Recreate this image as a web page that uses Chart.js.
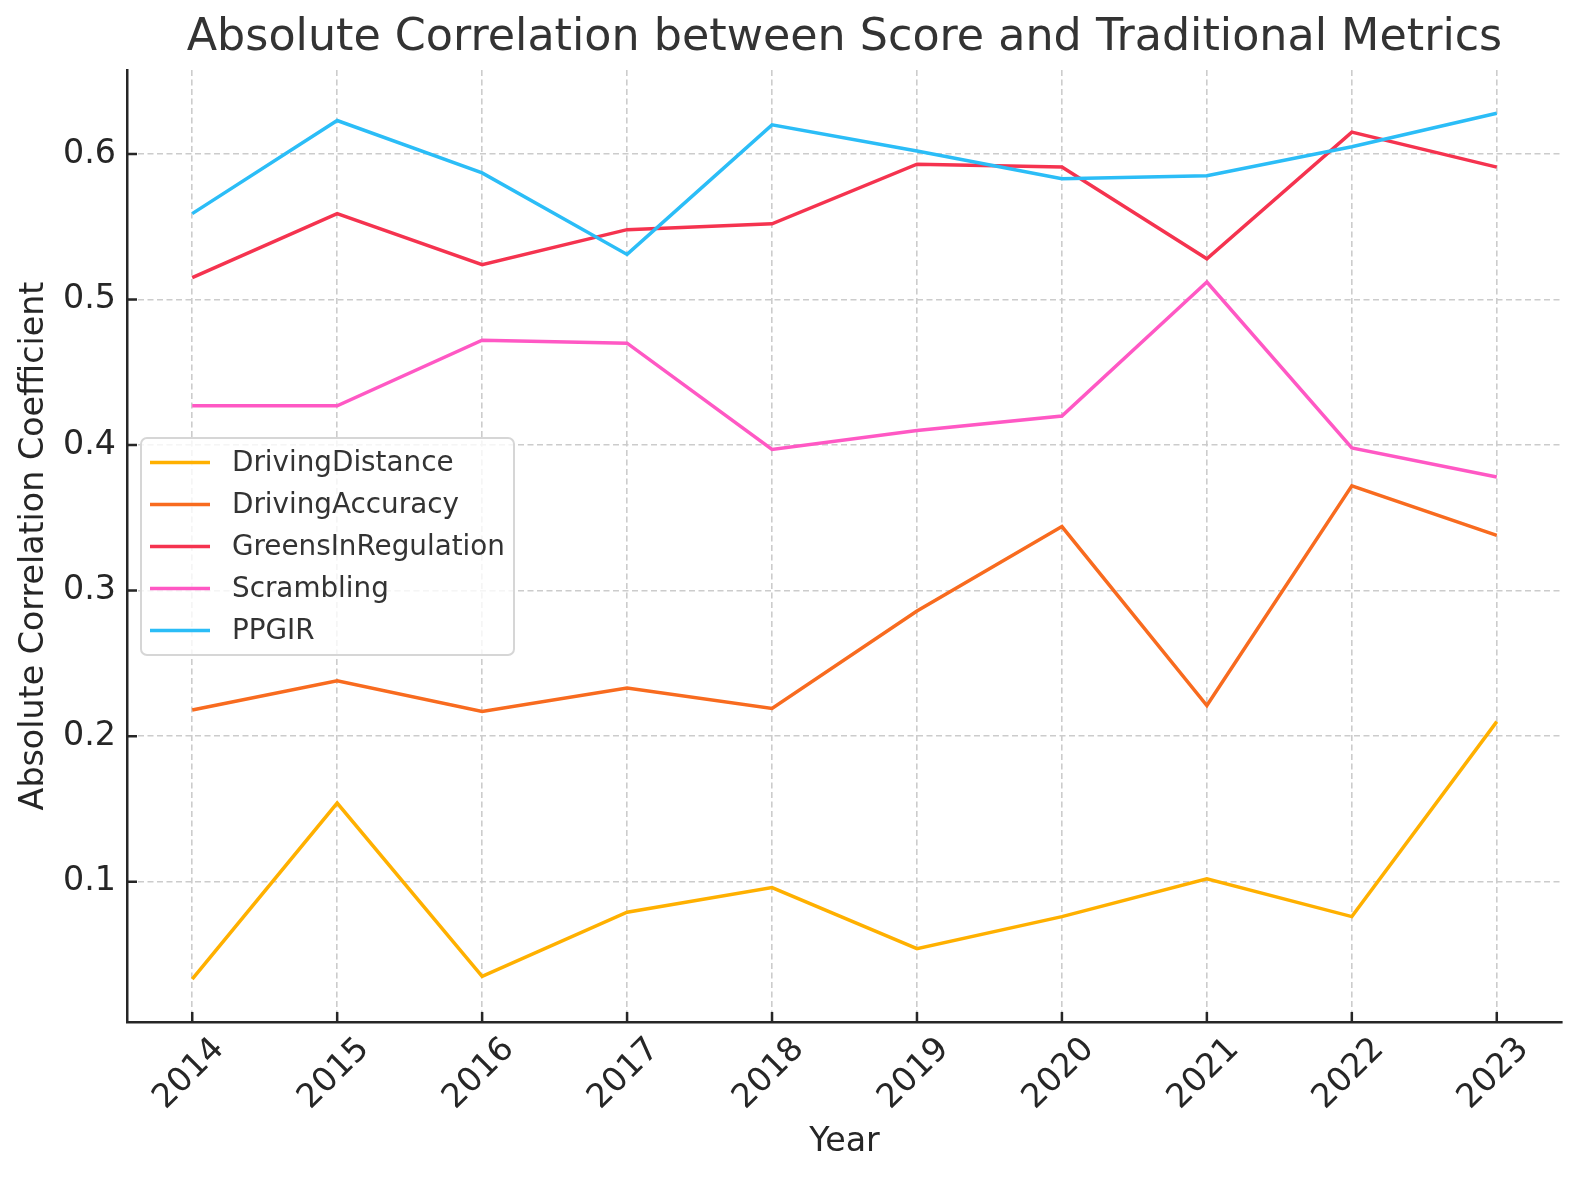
<!DOCTYPE html>
<html>
<head>
<meta charset="utf-8">
<script src="https://cdn.jsdelivr.net/npm/chart.js@4.4.1/dist/chart.umd.min.js"></script>
<style>
  html, body { margin: 0; padding: 0; background: #fff; }
</style>
</head>
<body>
<canvas id="myChart" width="1580" height="1180"></canvas>
<script>
const years = [2014, 2015, 2016, 2017, 2018, 2019, 2020, 2021, 2022, 2023];
const seriesNames = ['DrivingDistance', 'DrivingAccuracy', 'GreensInRegulation', 'Scrambling', 'PPGIR'];
const seriesColors = ['#ffb000', '#f86b1f', '#f5334f', '#ff58c4', '#2bbdf7'];

const drivingDistance    = [0.033, 0.154, 0.035, 0.079, 0.096, 0.054, 0.076, 0.102, 0.076, 0.210];
const drivingAccuracy    = [0.218, 0.238, 0.217, 0.233, 0.219, 0.286, 0.344, 0.221, 0.372, 0.338];
const greensInRegulation = [0.515, 0.559, 0.524, 0.548, 0.552, 0.593, 0.591, 0.528, 0.615, 0.591];
const scrambling         = [0.427, 0.427, 0.472, 0.470, 0.397, 0.410, 0.420, 0.512, 0.398, 0.378];
const ppgir              = [0.559, 0.623, 0.587, 0.531, 0.620, 0.602, 0.583, 0.585, 0.605, 0.628];

const allSeries = [drivingDistance, drivingAccuracy, greensInRegulation, scrambling, ppgir];
const chartTitle = 'Absolute Correlation between Score and Traditional Metrics';

Chart.defaults.font.family = '"DejaVu Sans", sans-serif';
Chart.defaults.color = '#262626';

// title over the plot area, inward ticks, rotated year labels and the legend box (matplotlib-style)
const extras = {
  id: 'extras',
  afterDraw(chart) {
    const ctx = chart.ctx;
    const area = chart.chartArea;
    const xs = chart.scales.x;
    const ys = chart.scales.y;
    ctx.save();

    ctx.fillStyle = '#333333';
    ctx.font = '44.4px "DejaVu Sans"';
    ctx.textAlign = 'center';
    ctx.textBaseline = 'middle';
    ctx.fillText(chartTitle, (area.left + area.right) / 2, 38.5);

    ctx.strokeStyle = '#262626';
    ctx.lineWidth = 2.5;
    ctx.beginPath();
    years.forEach(yr => {
      const px = xs.getPixelForValue(yr);
      ctx.moveTo(px, area.bottom);
      ctx.lineTo(px, area.bottom - 10);
    });
    ys.ticks.forEach(t => {
      const py = ys.getPixelForValue(t.value);
      ctx.moveTo(area.left, py);
      ctx.lineTo(area.left + 10, py);
    });
    ctx.stroke();

    ctx.fillStyle = '#262626';
    ctx.font = '33.3px "DejaVu Sans"';
    years.forEach(yr => {
      const px = xs.getPixelForValue(yr);
      ctx.save();
      ctx.translate(px - 3, area.bottom + 52);
      ctx.rotate(-Math.PI / 4);
      ctx.fillText(String(yr), 0, 0);
      ctx.restore();
    });

    // legend
    const lx = area.left + 14, ly = 438, lw = 373, lh = 217;
    ctx.beginPath();
    ctx.roundRect(lx, ly, lw, lh, 6);
    ctx.fillStyle = 'rgba(255,255,255,0.8)';
    ctx.fill();
    ctx.strokeStyle = '#d6d6d6';
    ctx.lineWidth = 2;
    ctx.stroke();
    ctx.textAlign = 'left';
    ctx.font = '27.8px "DejaVu Sans"';
    chart.data.datasets.forEach((ds, i) => {
      const rowY = ly + 24.5 + i * 42;
      ctx.strokeStyle = ds.borderColor;
      ctx.lineWidth = 3.5;
      ctx.beginPath();
      ctx.moveTo(lx + 9, rowY);
      ctx.lineTo(lx + 69, rowY);
      ctx.stroke();
      ctx.fillStyle = '#333333';
      ctx.fillText(ds.label, lx + 91, rowY + 1);
    });
    ctx.restore();
  }
};

const ctx = document.getElementById('myChart').getContext('2d');
const myChart = new Chart(ctx, {
  type: 'line',
  data: {
    datasets: seriesNames.map((name, i) => ({
      label: name,
      data: years.map((yr, j) => ({ x: yr, y: allSeries[i][j] })),
      borderColor: seriesColors[i],
      backgroundColor: seriesColors[i],
      borderWidth: 3.5,
      pointRadius: 0,
      tension: 0,
      fill: false,
      order: seriesNames.length - 1 - i
    }))
  },
  options: {
    responsive: false,
    animation: false,
    layout: { padding: { left: 0, right: 18, top: 70, bottom: 0 } },
    plugins: {
      legend: { display: false },
      tooltip: { enabled: false },
      title: { display: false }
    },
    scales: {
      x: {
        type: 'linear',
        min: 2013.55,
        max: 2023.45,
        afterFit: s => { s.height = 158; },
        ticks: { display: false, stepSize: 1, includeBounds: false },
        grid: { color: '#cccccc', lineWidth: 1.6, drawTicks: false },
        border: { display: true, color: '#262626', width: 2.5, dash: [6, 3.5] },
        title: {
          display: true,
          text: 'Year',
          color: '#262626',
          font: { size: 33.3 },
          padding: { top: 0, bottom: 18 }
        }
      },
      y: {
        min: 0.0036,
        max: 0.6577,
        afterFit: s => { s.width = 127; },
        ticks: {
          stepSize: 0.1,
          includeBounds: false,
          padding: 11,
          font: { size: 33.3 },
          color: '#262626',
          callback: v => v.toFixed(1)
        },
        grid: { color: '#cccccc', lineWidth: 1.6, drawTicks: false },
        border: { display: true, color: '#262626', width: 2.5, dash: [6, 3.5] },
        title: {
          display: true,
          text: 'Absolute Correlation Coefficient',
          color: '#262626',
          font: { size: 33.3 },
          padding: { top: 14, bottom: 0 }
        }
      }
    }
  },
  plugins: [extras]
});
</script>
</body>
</html>
